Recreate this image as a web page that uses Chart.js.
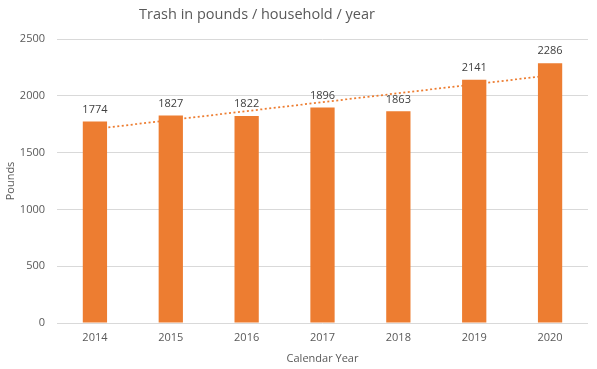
<!DOCTYPE html>
<html>
<head>
<meta charset="utf-8">
<script src="https://cdn.jsdelivr.net/npm/chart.js@4"></script>
<style>
html,body{margin:0;padding:0;background:#fff;}
#wrap{width:597px;height:369px;position:relative;}
</style>
</head>
<body>
<div id="wrap"><canvas id="c" width="597" height="369"></canvas></div>
<script>
const categories = ['2014','2015','2016','2017','2018','2019','2020'];
const pounds = [1774, 1827, 1822, 1896, 1863, 2141, 2286];
// linear trendline endpoints
const trend = [1708, null, null, null, null, null, 2180];
const yTicks = [0, 500, 1000, 1500, 2000, 2500];
const chartTitle = 'Trash in pounds / household / year';

const FONT = '"Open Sans", "DejaVu Sans", sans-serif';

const titlePlugin = {
  id: 'customTitle',
  afterDraw(chart) {
    const ctx = chart.ctx;
    ctx.save();
    ctx.font = '14.5px ' + FONT;
    ctx.fillStyle = '#595959';
    ctx.textAlign = 'center';
    ctx.textBaseline = 'middle';
    ctx.fillText(chartTitle, 257, 15);
    ctx.restore();
  }
};

const labelPlugin = {
  id: 'barLabels',
  afterDatasetsDraw(chart) {
    const ctx = chart.ctx;
    const meta = chart.getDatasetMeta(0);
    ctx.save();
    ctx.font = '11px ' + FONT;
    ctx.fillStyle = '#404040';
    ctx.textAlign = 'center';
    ctx.textBaseline = 'middle';
    meta.data.forEach((bar, i) => {
      ctx.fillText(String(pounds[i]), bar.x, bar.y - 12);
    });
    ctx.restore();
  }
};

new Chart(document.getElementById('c'), {
  data: {
    labels: categories,
    datasets: [
      {
        type: 'bar',
        data: pounds,
        backgroundColor: '#ED7D31',
        categoryPercentage: 1,
        barPercentage: 0.32,
        order: 1
      },
      {
        type: 'line',
        data: trend,
        spanGaps: true,
        borderColor: '#ED7D31',
        borderWidth: 1.75,
        borderDash: [2, 2.5],
        pointRadius: 0,
        fill: false,
        order: 2
      }
    ]
  },
  options: {
    responsive: false,
    animation: false,
    layout: { padding: { top: 39, right: 9, left: 0, bottom: 0 } },
    plugins: { legend: { display: false }, tooltip: { enabled: false }, title: { display: false } },
    scales: {
      x: {
        grid: { display: false, drawTicks: false },
        border: { display: false },
        ticks: { color: '#595959', font: { family: FONT, size: 11 }, padding: 8 },
        title: { display: true, text: 'Calendar Year', color: '#595959', font: { family: FONT, size: 11 }, padding: { top: 4 } },
        afterFit(s) { s.height = 46; }
      },
      y: {
        min: 0, max: 2500,
        afterBuildTicks(s) { s.ticks = yTicks.map(v => ({ value: v })); },
        grid: { color: '#d9d9d9', drawTicks: false },
        border: { display: false },
        ticks: { color: '#595959', font: { family: FONT, size: 11 }, padding: 12, callback: v => String(v) },
        title: { display: true, text: 'Pounds', color: '#595959', font: { family: FONT, size: 11 }, padding: { top: 4, bottom: 0 } },
        afterFit(s) { s.width = 57; }
      }
    }
  },
  plugins: [titlePlugin, labelPlugin]
});
</script>
</body>
</html>
